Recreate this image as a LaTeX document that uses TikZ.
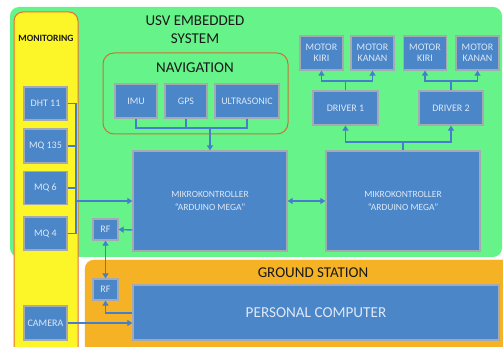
\documentclass[tikz,border=0pt]{standalone}
\usepackage{fontspec}
\setmainfont{Carlito}
\usetikzlibrary{arrows.meta}

\definecolor{usvgreen}{RGB}{102,243,138}
\definecolor{monyellow}{RGB}{252,246,40}
\definecolor{monborder}{RGB}{232,110,50}
\definecolor{gsorange}{RGB}{245,178,37}
\definecolor{navborder}{RGB}{200,117,51}
\definecolor{boxblue}{RGB}{74,134,200}
\definecolor{boxedge}{RGB}{165,170,178}
\definecolor{boxtext}{RGB}{222,232,246}
\definecolor{wire}{RGB}{70,125,205}
\definecolor{titletext}{RGB}{25,25,25}

\tikzset{
  block/.style={draw=boxedge, line width=1.3pt, fill=boxblue, text=boxtext,
    inner sep=0pt, align=center, font=\fontsize{10}{11.5}\selectfont},
  bigblock/.style={block, font=\fontsize{9.5}{13}\selectfont},
  wirebus/.style={draw=wire, line width=1.4pt},
  wirearrow/.style={wirebus, -{Triangle[width=6pt,length=5pt]}},
  wiredouble/.style={wirebus, {Triangle[width=6pt,length=5pt]}-{Triangle[width=6pt,length=5pt]}},
  heading/.style={text=titletext, font=\fontsize{15}{18}\selectfont, align=center, inner sep=0pt}
}

\begin{document}
\begin{tikzpicture}[x=1pt, y=-1pt]
  \clip (0,0) rectangle (503,347);
  \fill[white] (0,0) rectangle (503,347);

  % regions
  \fill[usvgreen, rounded corners=9pt] (10,7) rectangle (502,257);
  \filldraw[fill=gsorange, draw=gsorange, rounded corners=9pt] (85,260) rectangle (530,380);
  \filldraw[fill=monyellow, draw=monborder, line width=1pt, rounded corners=9pt] (14,12) rectangle (78,380);
  \draw[navborder, line width=1pt, rounded corners=11pt] (103,53) rectangle (288,134);

  % headings
  \node[heading] (usv) at (195,30) {USV EMBEDDED\\SYSTEM};
  \node[heading] (nav) at (195,68) {NAVIGATION};
  \node[heading] (gs) at (313,273) {GROUND STATION};
  \node[heading, font=\bfseries\fontsize{9.6}{10}\selectfont] (mon) at (46,38) {MONITORING};

  % monitoring sensors
  \node[block, minimum width=43pt, minimum height=33pt] (dht) at (45.5,103.5) {DHT 11};
  \node[block, minimum width=43pt, minimum height=34pt] (mq135) at (45.5,146) {MQ 135};
  \node[block, minimum width=43pt, minimum height=33pt] (mq6) at (45.5,188) {MQ 6};
  \node[block, minimum width=43pt, minimum height=33pt] (mq4) at (45.5,233.5) {MQ 4};
  \node[block, minimum width=43pt, minimum height=34pt] (cam) at (45.5,323) {CAMERA};

  % navigation sensors
  \node[block, minimum width=42pt, minimum height=34pt] (imu) at (136,101) {IMU};
  \node[block, minimum width=42pt, minimum height=34pt] (gps) at (186,101) {GPS};
  \node[block, minimum width=64pt, minimum height=34pt] (ultra) at (247,101) {ULTRASONIC};

  % controllers
  \node[bigblock, minimum width=154pt, minimum height=100pt] (mc1) at (210,201)
    {MIKROKONTROLLER\\``ARDUINO MEGA''};
  \node[bigblock, minimum width=154pt, minimum height=100pt] (mc2) at (403,201)
    {MIKROKONTROLLER\\``ARDUINO MEGA''};

  % drivers and motors
  \node[block, minimum width=65pt, minimum height=34pt] (drv1) at (345.5,108) {DRIVER 1};
  \node[block, minimum width=64pt, minimum height=34pt] (drv2) at (451,108) {DRIVER 2};
  \node[block, minimum width=43pt, minimum height=34pt] (mk1) at (321.5,53) {MOTOR\\KIRI};
  \node[block, minimum width=43pt, minimum height=34pt] (mn1) at (372.5,53) {MOTOR\\KANAN};
  \node[block, minimum width=43pt, minimum height=34pt] (mk2) at (425,53) {MOTOR\\KIRI};
  \node[block, minimum width=43pt, minimum height=34pt] (mn2) at (477.5,53) {MOTOR\\KANAN};

  % radio links and ground station
  \node[block, minimum width=25pt, minimum height=21pt] (rf1) at (105.5,229.5) {RF};
  \node[block, minimum width=25pt, minimum height=21pt] (rf2) at (105.5,289.5) {RF};
  \node[block, minimum width=366pt, minimum height=55pt, font=\fontsize{15.2}{17}\selectfont] (pc) at (316,312.5) {PERSONAL COMPUTER};

  % junction points
  \coordinate (sbus) at (76,201);
  \coordinate (navbus) at (210,128);
  \coordinate (drvbus) at (403,142);
  \coordinate (m1bus) at (345.5,81);
  \coordinate (m2bus) at (451,81);

  % sensor bus into controller 1
  \draw[wirebus] (dht.east) -- (dht.east -| sbus) -- (mq4.east -| sbus) -- (mq4.east);
  \draw[wirebus] (mq135.east) -- (mq135.east -| sbus);
  \draw[wirebus] (mq6.east) -- (mq6.east -| sbus);
  \draw[wirearrow] (sbus) -- (mc1.west);

  % navigation bus into controller 1
  \draw[wirebus] (imu.south) -- (imu.south |- navbus) -- (ultra.south |- navbus) -- (ultra.south);
  \draw[wirebus] (gps.south) -- (gps.south |- navbus);
  \draw[wirearrow] (navbus) -- (mc1.north);

  % controller to controller
  \draw[wiredouble] (mc1.east) -- (mc2.west);

  % controller 2 to drivers
  \draw[wirebus] (mc2.north) -- (drvbus);
  \draw[wirearrow] (drvbus) -- (drvbus -| drv1.south) -- (drv1.south);
  \draw[wirearrow] (drvbus) -- (drvbus -| drv2.south) -- (drv2.south);

  % drivers to motors
  \draw[wirebus] (drv1.north) -- (m1bus);
  \draw[wirearrow] (m1bus) -- (m1bus -| mk1.south) -- (mk1.south);
  \draw[wirearrow] (m1bus) -- (m1bus -| mn1.south) -- (mn1.south);
  \draw[wirebus] (drv2.north) -- (m2bus);
  \draw[wirearrow] (m2bus) -- (m2bus -| mk2.south) -- (mk2.south);
  \draw[wirearrow] (m2bus) -- (m2bus -| mn2.south) -- (mn2.south);

  % radio path
  \draw[wirearrow] (mc1.west |- 0,230) -- (rf1.east);
  \draw[wiredouble] (rf1.south) -- (rf2.north);
  \draw[wirearrow] (pc.west |- 0,313) -- (rf2.south |- 0,313) -- (rf2.south);

  % camera feed
  \draw[wirearrow] (cam.east) -- (pc.west |- cam.east);
\end{tikzpicture}
\end{document}
